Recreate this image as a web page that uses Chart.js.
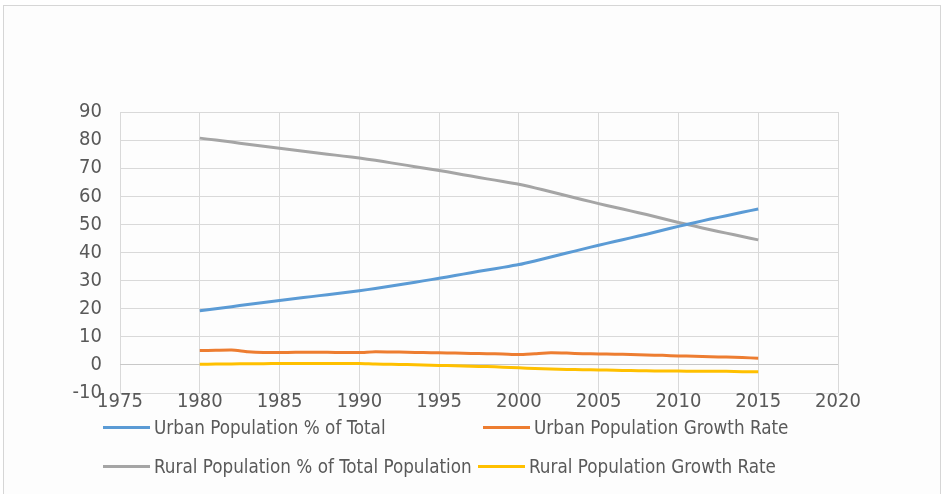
<!DOCTYPE html>
<html>
<head>
<meta charset="utf-8">
<script src="https://cdn.jsdelivr.net/npm/chart.js@4"></script>
<style>
  html, body { margin:0; padding:0; background:#fff; }
  #wrap { position:relative; width:943px; height:494px; overflow:hidden; }
  #frame { position:absolute; left:3px; top:5px; width:938px; height:490px; border:1px solid #d6d6d6; background:#fdfdfd; box-sizing:border-box; }
  canvas { position:absolute; left:0; top:0; }
  .leg { position:absolute; font-family:"Liberation Sans Narrow","DejaVu Sans Condensed",sans-serif; font-size:18.7px; color:#595959; white-space:nowrap; display:flex; align-items:center; }
  .leg span.sw { display:inline-block; width:47px; height:3px; margin-right:4px; }
</style>
</head>
<body>
<div id="wrap">
  <div id="frame"></div>
  <canvas id="c" width="943" height="494"></canvas>
  <div id="legend"></div>
</div>
<script>
const years = [1980,1981,1982,1983,1984,1985,1986,1987,1988,1989,1990,1991,1992,1993,1994,1995,1996,1997,1998,1999,2000,2001,2002,2003,2004,2005,2006,2007,2008,2009,2010,2011,2012,2013,2014,2015];
const urbanPct = [19.3,20.0,20.7,21.5,22.2,22.9,23.6,24.3,25.0,25.7,26.4,27.2,28.1,29.0,29.9,30.8,31.8,32.8,33.8,34.7,35.7,37.0,38.4,39.8,41.2,42.6,43.9,45.2,46.5,47.9,49.3,50.6,51.9,53.1,54.3,55.5];
const urbanGrowth = [5.1,5.2,5.3,4.7,4.4,4.4,4.5,4.5,4.5,4.4,4.4,4.7,4.6,4.5,4.4,4.3,4.2,4.1,4.0,3.9,3.7,4.0,4.3,4.2,4.0,3.9,3.8,3.7,3.5,3.4,3.2,3.1,2.9,2.8,2.6,2.4];
const ruralPct = [80.7,80.0,79.3,78.5,77.8,77.1,76.4,75.7,75.0,74.3,73.6,72.8,71.9,71.0,70.1,69.2,68.2,67.2,66.2,65.3,64.3,63.0,61.6,60.2,58.8,57.4,56.1,54.8,53.5,52.1,50.7,49.4,48.1,46.9,45.7,44.5];
const ruralGrowth = [0.25,0.3,0.35,0.4,0.45,0.5,0.5,0.5,0.5,0.5,0.5,0.3,0.2,0.1,0.0,-0.2,-0.3,-0.5,-0.6,-0.8,-1.0,-1.3,-1.5,-1.6,-1.7,-1.8,-1.9,-2.0,-2.1,-2.2,-2.2,-2.3,-2.3,-2.3,-2.4,-2.4];
const seriesNames = ["Urban Population % of Total","Urban Population Growth Rate","Rural Population % of Total Population","Rural Population Growth Rate"];
const seriesColors = ["#5b9bd5","#ed7d31","#a5a5a5","#ffc000"];
const seriesValues = [urbanPct, urbanGrowth, ruralPct, ruralGrowth];

const FONT = "'Liberation Sans Narrow','DejaVu Sans Condensed',sans-serif";

const datasets = seriesValues.map((vals, i) => ({
  label: seriesNames[i],
  data: years.map((y, j) => ({x: y, y: vals[j]})),
  borderColor: seriesColors[i],
  backgroundColor: seriesColors[i],
  borderWidth: 3,
  pointRadius: 0,
  tension: 0.2,
  fill: false
}));

const chart = new Chart(document.getElementById('c'), {
  type: 'line',
  data: { datasets },
  options: {
    responsive: false,
    animation: false,
    layout: { padding: { left: 0, right: 105, top: 112, bottom: 0 } },
    plugins: { legend: { display: false }, tooltip: { enabled: false } },
    scales: {
      x: {
        type: 'linear', min: 1975, max: 2020,
        ticks: { stepSize: 5, color: '#595959', font: { family: FONT, size: 20 }, padding: -3, callback: v => String(v) , maxRotation: 0},
        grid: { color: '#d9d9d9', drawTicks: false, lineWidth: 1 },
        border: { display: false },
        afterFit: s => { s.height = 101; }
      },
      y: {
        min: -10, max: 90,
        ticks: { stepSize: 10, color: '#595959', font: { family: FONT, size: 20 }, padding: 18 },
        grid: { color: ctx => ctx.tick && ctx.tick.value === 0 ? '#c8c8c8' : '#d9d9d9', drawTicks: false, lineWidth: 1 },
        border: { display: false },
        afterFit: s => { s.width = 120; }
      }
    }
  }
});

// HTML legend built from the chart's datasets
const legPos = [[103,427],[483,427],[103,466],[478,466]];
const leg = document.getElementById('legend');
chart.data.datasets.forEach((ds, i) => {
  const d = document.createElement('div');
  d.className = 'leg';
  d.style.left = legPos[i][0] + 'px';
  d.style.top = (legPos[i][1] - 12) + 'px';
  d.style.height = '24px';
  d.innerHTML = '<span class="sw" style="background:' + ds.borderColor + '"></span>' + ds.label;
  leg.appendChild(d);
});
</script>
</body>
</html>
